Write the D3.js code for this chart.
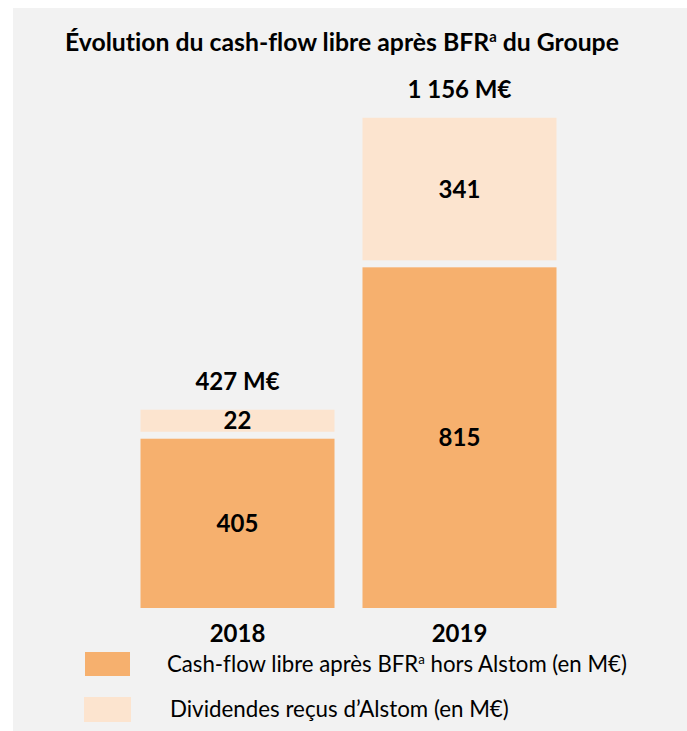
<!DOCTYPE html>
<html>
<head>
<meta charset="utf-8">
<script src="https://cdn.jsdelivr.net/npm/d3@7"></script>
<style>
  body { margin: 0; background: #fff; }
  svg text { font-family: Lato, "Open Sans", sans-serif; fill: #000; font-variant-ligatures: none; }
</style>
</head>
<body>
<div id="viz"></div>
<script>
// chart data
var years = ["2018", "2019"];
var cashFlow = [405, 815];     // Cash-flow libre après BFR hors Alstom
var dividends = [22, 341];     // Dividendes reçus d'Alstom
var totals = ["427 M€", "1 156 M€"];
var seriesNames = ["Cash-flow libre après BFR", "Dividendes reçus d’Alstom (en M€)"];

var width = 687, height = 731;
var base = 608, gap = 7, minSeg = 22;
var darkColor = "#f6b06e", lightColor = "#fce4cf";

var svg = d3.select("#viz").append("svg")
  .attr("width", width)
  .attr("height", height);

svg.append("rect").attr("width", width).attr("height", height).attr("fill", "#fff");
svg.append("rect").attr("x", 13).attr("y", 8)
  .attr("width", width - 13).attr("height", height - 8)
  .attr("fill", "#f2f2f2");

// shrink/grow font so the text fits a given width
function fitWidth(sel, w) {
  var node = sel.node();
  var fs = parseFloat(sel.attr("font-size"));
  var len = node.getComputedTextLength();
  sel.attr("font-size", (fs * w / len).toFixed(2));
}

var title = svg.append("text")
  .attr("x", 65).attr("y", 51)
  .attr("font-size", 24).attr("font-weight", "bold");
title.append("tspan").text("Évolution du cash-flow libre après BFR");
title.append("tspan").attr("font-size", "60%").attr("dy", -9).text("a");
title.append("tspan").attr("dy", 9).text(" du Groupe");
fitWidth(title, 554);

var x = d3.scaleBand()
  .domain(years)
  .range([140.5, 556.5])
  .paddingInner(0.126);

var y = d3.scaleLinear()
  .domain([0, 1000])
  .range([0, 418]);

var data = years.map(function (yr, i) {
  var hDark = y(cashFlow[i]);
  var hLight = Math.max(y(dividends[i]), minSeg);
  return {
    year: yr,
    dark: cashFlow[i],
    light: dividends[i],
    total: totals[i],
    darkTop: base - hDark,
    darkH: hDark,
    lightTop: base - hDark - gap - hLight,
    lightH: hLight
  };
});

var g = svg.selectAll("g.bar").data(data).enter().append("g").attr("class", "bar");

g.append("rect")
  .attr("x", function (d) { return x(d.year); })
  .attr("y", function (d) { return d.darkTop; })
  .attr("width", x.bandwidth())
  .attr("height", function (d) { return d.darkH; })
  .attr("fill", darkColor);

g.append("rect")
  .attr("x", function (d) { return x(d.year); })
  .attr("y", function (d) { return d.lightTop; })
  .attr("width", x.bandwidth())
  .attr("height", function (d) { return d.lightH; })
  .attr("fill", lightColor);

var cx = function (d) { return x(d.year) + x.bandwidth() / 2; };

g.append("text")
  .attr("x", cx)
  .attr("y", function (d) { return d.darkTop + d.darkH / 2; })
  .attr("dy", "0.36em")
  .attr("text-anchor", "middle")
  .attr("font-size", 24).attr("font-weight", "bold")
  .text(function (d) { return d.dark; });

g.append("text")
  .attr("x", cx)
  .attr("y", function (d) { return d.lightTop + d.lightH / 2; })
  .attr("dy", "0.36em")
  .attr("text-anchor", "middle")
  .attr("font-size", 24).attr("font-weight", "bold")
  .text(function (d) { return d.light; });

g.append("text")
  .attr("x", cx)
  .attr("y", function (d) { return d.lightTop - 20; })
  .attr("text-anchor", "middle")
  .attr("font-size", 24).attr("font-weight", "bold")
  .text(function (d) { return d.total; });

// year labels
var xAxis = svg.append("g")
  .attr("transform", "translate(0," + base + ")")
  .call(d3.axisBottom(x).tickSize(0).tickPadding(0));
xAxis.select(".domain").remove();
xAxis.selectAll("text")
  .attr("y", 34).attr("dy", 0)
  .attr("font-size", 24).attr("font-weight", "bold")
  .style("font-family", "Lato, 'Open Sans', sans-serif")
  .attr("fill", "#000");

// legend
var legend = svg.append("g");
legend.append("rect").attr("x", 85).attr("y", 652).attr("width", 45).attr("height", 24).attr("fill", darkColor);
legend.append("rect").attr("x", 84).attr("y", 697).attr("width", 47).attr("height", 25).attr("fill", lightColor);

var l1 = legend.append("text").attr("x", 167).attr("y", 672).attr("font-size", 19);
l1.append("tspan").text(seriesNames[0]);
l1.append("tspan").attr("font-size", "60%").attr("dy", -8).text("a");
l1.append("tspan").attr("dy", 8).text(" hors Alstom (en M€)");
fitWidth(l1, 460);

var l2 = legend.append("text").attr("x", 170).attr("y", 717).attr("font-size", 19)
  .text(seriesNames[1]);
fitWidth(l2, 339);
</script>
</body>
</html>
